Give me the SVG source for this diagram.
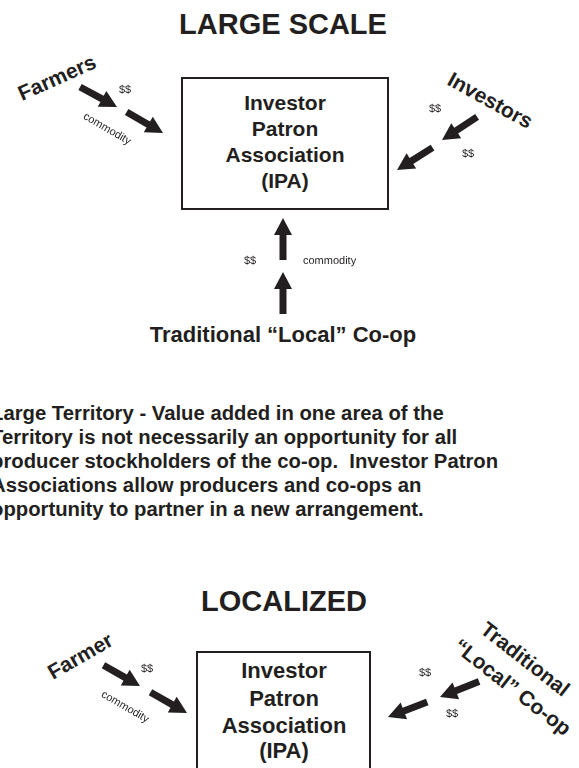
<svg xmlns="http://www.w3.org/2000/svg" xmlns:xlink="http://www.w3.org/1999/xlink" width="579" height="768" viewBox="0 0 579 768">
<style>
text { font-family: "Liberation Sans", Arial, Helvetica, sans-serif; fill: #231f20; }
.title { font-size: 29px; font-weight: bold; text-anchor: middle; }
.box { fill: none; stroke: #231f20; stroke-width: 2; }
.boxtxt { font-size: 21px; font-weight: bold; text-anchor: middle; }
.boxtxt2 { font-size: 22px; font-weight: bold; text-anchor: middle; }
.actor { font-size: 21px; font-weight: bold; }
.actor2 { font-size: 21px; font-weight: bold; }
.lbl { font-size: 11px; text-rendering: geometricPrecision; }
.lblc { font-size: 11px; text-anchor: middle; text-rendering: geometricPrecision; }
.para { font-size: 20.3px; font-weight: bold; white-space: pre; }
.arrow { fill: #231f20; }
.labels { opacity: 0.999; }
</style>
<defs>
<path id="arr" d="M0,0 L-17,-9 L-17,-3.5 L-42,-3.5 L-42,3.5 L-17,3.5 L-17,9 Z"/>
</defs>

<!-- LARGE SCALE section -->
<text class="title" x="283" y="34">LARGE SCALE</text>

<g id="ipa-top">
<rect class="box" x="182" y="78" width="206" height="131"/>
<text class="boxtxt" x="285" y="110">Investor</text>
<text class="boxtxt" x="285" y="136">Patron</text>
<text class="boxtxt" x="285" y="162">Association</text>
<text class="boxtxt" x="285" y="188">(IPA)</text>
</g>

<g id="farmers-top">
<text class="actor" x="22" y="101" transform="rotate(-24 22 101)">Farmers</text>
</g>

<g id="investors-top">
<text class="actor" x="446" y="84" transform="rotate(29 446 84)">Investors</text>
</g>

<g id="coop-top">
<text x="283" y="342" style="font-size:22px;font-weight:bold;text-anchor:middle">Traditional “Local” Co-op</text>
</g>

<g id="connectors-top">
<use xlink:href="#arr" class="arrow" transform="translate(117,107) rotate(28.4)"/>
<use xlink:href="#arr" class="arrow" transform="translate(163,133) rotate(30)"/>
<use xlink:href="#arr" class="arrow" transform="translate(442,140) rotate(146.7)"/>
<use xlink:href="#arr" class="arrow" transform="translate(397,170) rotate(147.8)"/>
<use xlink:href="#arr" class="arrow" transform="translate(283,218) rotate(-90)"/>
<use xlink:href="#arr" class="arrow" transform="translate(283,272) rotate(-90)"/>
<g class="labels">
<text class="lblc" x="125" y="93">$$</text>
<text class="lblc" x="107" y="132" transform="rotate(30 107 129)">commodity</text>
<text class="lblc" x="435" y="112">$$</text>
<text class="lblc" x="468" y="157">$$</text>
<text class="lblc" x="250" y="264">$$</text>
<text class="lbl" x="303" y="264">commodity</text>
</g>
</g>

<!-- Paragraph -->
<g id="description">
<text class="para" x="-9" y="420">Large Territory - Value added in one area of the</text>
<text class="para" x="-9" y="444">Territory is not necessarily an opportunity for all</text>
<text class="para" x="-9" y="468">producer stockholders of the co-op.  Investor Patron</text>
<text class="para" x="-9" y="492">Associations allow producers and co-ops an</text>
<text class="para" x="-9" y="516">opportunity to partner in a new arrangement.</text>
</g>

<!-- LOCALIZED section -->
<text class="title" x="284" y="611">LOCALIZED</text>

<g id="ipa-bottom">
<rect class="box" x="197" y="652" width="173" height="140"/>
<text class="boxtxt2" x="284" y="678">Investor</text>
<text class="boxtxt2" x="284" y="706">Patron</text>
<text class="boxtxt2" x="284" y="733">Association</text>
<text class="boxtxt2" x="284" y="758">(IPA)</text>
</g>

<g id="farmer-bottom">
<text class="actor" x="53" y="680" transform="rotate(-30 53 680)">Farmer</text>
</g>

<g id="coop-bottom">
<text class="actor2" x="479" y="632" transform="rotate(38 479 632)">Traditional</text>
<text class="actor2" x="452" y="649" transform="rotate(38 452 649)">“Local” Co-op</text>
</g>

<g id="connectors-bottom">
<use xlink:href="#arr" class="arrow" transform="translate(140,686) rotate(29.6)"/>
<use xlink:href="#arr" class="arrow" transform="translate(187,713) rotate(29.6)"/>
<use xlink:href="#arr" class="arrow" transform="translate(440,697) rotate(158.5)"/>
<use xlink:href="#arr" class="arrow" transform="translate(388,717) rotate(159)"/>
<g class="labels">
<text class="lblc" x="147" y="672">$$</text>
<text class="lblc" x="125" y="710" transform="rotate(30 125 707)">commodity</text>
<text class="lblc" x="425" y="676">$$</text>
<text class="lblc" x="452" y="717">$$</text>
</g>
</g>
</svg>
